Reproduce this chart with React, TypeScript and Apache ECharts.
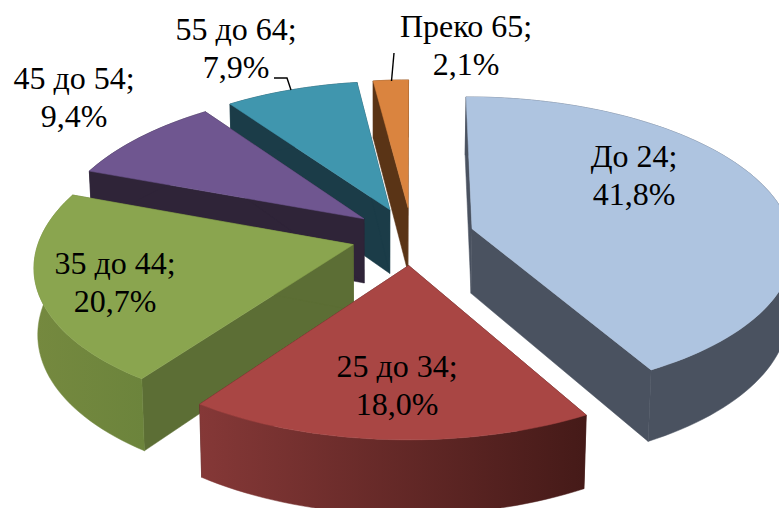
import React, { useEffect, useRef } from "react";
import * as echarts from "echarts";

const categories = ["До 24", "25 до 34", "35 до 44", "45 до 54", "55 до 64", "Преко 65"];
const shares = [41.8, 18.0, 20.7, 9.4, 7.9, 2.1];

const topColors = ["#AEC4E0", "#A94644", "#8AA54F", "#6F5690", "#4096AE", "#DA843F"];
const wallColors = ["#4A5260", "#451A18", "#5C6E35", "#2F2438", "#1B3C48", "#5A3416"];
const rimFrom = ["#4A5260", "#853837", "#75893F", "#2F2438", "#1B3C48", "#5A3416"];
const rimTo = ["#4A5260", "#451A18", "#6C843C", "#2F2438", "#1B3C48", "#5A3416"];
const paintRank = [4, 5, 3, 2, 1, 0];
const labelAt = [
  [634, 175],
  [397, 385],
  [115, 282],
  [74, 97],
  [236, 48],
  [466, 45],
];

const CX = 412, CY = 236, RX = 320, RY = 148, PERSP = 0.111, EXPLODE = 0.195, DEPTH = 65;

function project(u: number, v: number) {
  const f = 1 / (1 + PERSP * v);
  const squeeze = u < 0 ? 7 * -u * Math.max(0, (v + 1.2) / 1.2) : 0;
  return { x: CX + RX * u * f + squeeze, y: CY - RY * v * f, f };
}
function topPoint(u: number, v: number): number[] {
  const p = project(u, v);
  return [p.x, p.y];
}
function bottomPoint(u: number, v: number): number[] {
  const p = project(u, v);
  return [380 + (p.x - 380) * 0.989, p.y + DEPTH * p.f];
}

function renderSlice(params: any, api: any) {
  const i = params.dataIndex;
  const total = shares.reduce((a, b) => a + b, 0);
  const before = shares.slice(0, i).reduce((a, b) => a + b, 0);
  const a0 = (before / total) * Math.PI * 2;
  const a1 = a0 + (api.value(0) / total) * Math.PI * 2;
  const mid = (a0 + a1) / 2;
  const eu = Math.sin(mid) * EXPLODE, ev = Math.cos(mid) * EXPLODE;
  const steps = Math.max(4, Math.ceil((a1 - a0) / 0.03));
  const arcTop: number[][] = [], arcBottom: number[][] = [];
  for (let k = 0; k <= steps; k++) {
    const a = a0 + ((a1 - a0) * k) / steps;
    const u = Math.sin(a) + eu, v = Math.cos(a) + ev;
    arcTop.push(topPoint(u, v));
    arcBottom.push(bottomPoint(u, v));
  }
  const apexTop = topPoint(eu, ev), apexBottom = bottomPoint(eu, ev);
  const z = paintRank[i] * 10;
  const poly = (points: number[][], fill: any, z2: number) => ({
    type: "polygon",
    z2,
    shape: { points },
    style: { fill, stroke: fill, lineWidth: 0.5 },
  });
  const rimFill =
    rimFrom[i] === rimTo[i]
      ? rimTo[i]
      : new echarts.graphic.LinearGradient(0, 0, 1, 0, [
          { offset: 0, color: rimFrom[i] },
          { offset: 1, color: rimTo[i] },
        ]);
  const pct = shares[i].toFixed(1).replace(".", ",");
  return {
    type: "group",
    children: [
      poly([arcTop[0], apexTop, apexBottom, arcBottom[0]], wallColors[i], z + 1),
      poly([arcTop[steps], apexTop, apexBottom, arcBottom[steps]], wallColors[i], z + 1),
      poly([...arcTop, ...arcBottom.slice().reverse()], rimFill, z + 2),
      poly([apexTop, ...arcTop], topColors[i], z + 3),
      {
        type: "text",
        z2: 200,
        style: {
          text: `${categories[i]};\n${pct}%`,
          x: labelAt[i][0],
          y: labelAt[i][1],
          align: "center",
          verticalAlign: "middle",
          font: '32px "Liberation Serif"',
          lineHeight: 37.5,
          fill: "#000",
        },
      },
    ],
  };
}

export default function App() {
  const ref = useRef<HTMLDivElement>(null);
  useEffect(() => {
    document.body.style.margin = "0";
    const chart = echarts.init(ref.current!, undefined, { renderer: "svg" });
    chart.setOption({
      animation: false,
      backgroundColor: "#fff",
      series: [
        {
          type: "custom",
          coordinateSystem: "none",
          renderItem: renderSlice,
          data: shares.map((v, i) => ({ name: categories[i], value: [v] })),
          silent: true,
        },
      ],
      graphic: [
        {
          type: "polyline",
          z: 50,
          shape: { points: [[274, 78], [287, 78], [291, 90]] },
          style: { stroke: "#000", lineWidth: 1.4, fill: null },
        },
        {
          type: "line",
          z: 50,
          shape: { x1: 391.5, y1: 81, x2: 394, y2: 53 },
          style: { stroke: "#000", lineWidth: 1.4 },
        },
      ],
    });
    return () => chart.dispose();
  }, []);
  return <div ref={ref} style={{ width: 779, height: 508 }} />;
}
